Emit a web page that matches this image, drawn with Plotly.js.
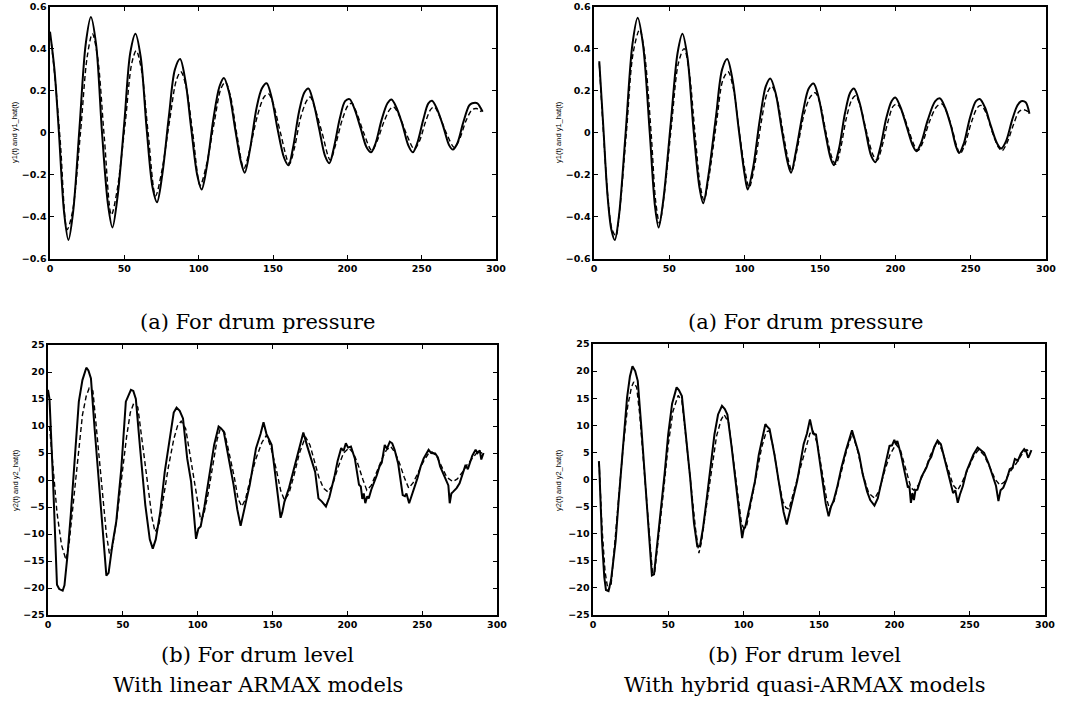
<!DOCTYPE html>
<html>
<head>
<meta charset="utf-8">
<script src="https://cdn.plot.ly/plotly-3.0.1.min.js"></script>
<style>html,body{margin:0;padding:0;background:#fff;}#chart{width:1075px;height:706px;}</style>
</head>
<body>
<div id="chart"></div>
<script>
// ---- data (x = sample index, y = value) ----
const tlSolid = [[0,0.48],[3,0.30],[6,0.0],[9.5,-0.38],[12.4,-0.51],[15.5,-0.38],[19.8,0.02],[24,0.42],[27.5,0.55],[31,0.42],[35,0.0],[39,-0.34],[42,-0.45],[45.5,-0.3],[50,0.05],[54,0.38],[57.5,0.47],[61,0.36],[65,0.02],[69,-0.26],[72,-0.33],[75.5,-0.2],[80,0.08],[84,0.30],[87.5,0.35],[91,0.25],[95,0.02],[99,-0.20],[102,-0.27],[105.5,-0.16],[110,0.07],[114,0.22],[117,0.26],[120.5,0.19],[124.5,0.02],[128.5,-0.14],[131,-0.19],[134.5,-0.08],[139,0.12],[142.5,0.21],[145.7,0.235],[149,0.17],[153,0.02],[157.5,-0.12],[160.4,-0.155],[163.5,-0.07],[167.5,0.10],[171,0.19],[173.8,0.21],[177,0.15],[181,0.02],[185,-0.11],[187.9,-0.145],[191,-0.07],[195,0.07],[198.5,0.15],[201.5,0.16],[205,0.11],[209,0.02],[213,-0.07],[216,-0.093],[219,-0.05],[223,0.06],[227,0.14],[229.7,0.158],[233,0.12],[237,0.04],[241,-0.06],[244,-0.093],[247,-0.05],[251,0.06],[254.5,0.14],[257,0.152],[260.5,0.11],[264.5,0.03],[268.5,-0.06],[271,-0.08],[274,-0.05],[278,0.05],[282,0.13],[284,0.14],[287.5,0.14],[289.5,0.12],[291,0.10]];
const tlDashed = [[1,0.42],[3.5,0.25],[7,-0.05],[11.5,-0.46],[15,-0.38],[20.5,0.0],[25,0.36],[28.5,0.47],[32,0.36],[36.5,-0.02],[41.3,-0.39],[45,-0.28],[50.5,0.04],[55,0.33],[58,0.39],[61.5,0.30],[66,0.0],[71,-0.30],[75,-0.19],[80.5,0.06],[85,0.25],[88,0.29],[91.5,0.22],[96,0.0],[101,-0.25],[105,-0.16],[110.5,0.05],[115,0.21],[118,0.24],[121.5,0.17],[125.5,0.0],[130.4,-0.17],[134,-0.09],[139.5,0.08],[144,0.17],[147,0.185],[150.5,0.13],[155,0.0],[161,-0.148],[164.5,-0.07],[168.5,0.07],[172.5,0.15],[175,0.17],[178.5,0.11],[183,0.0],[188.5,-0.13],[192,-0.06],[196.5,0.06],[200.5,0.13],[203,0.14],[206.5,0.09],[211,0.0],[216.5,-0.085],[220,-0.04],[224.5,0.05],[228.5,0.11],[231,0.123],[235,0.08],[240,-0.01],[245,-0.077],[248.5,-0.04],[252.5,0.05],[256,0.11],[258.5,0.123],[262,0.08],[266.5,0.0],[272,-0.07],[275.5,-0.03],[280,0.06],[284,0.11],[287,0.115],[290,0.10]];
const trSolid = [[3.5,0.34],[6,0.05],[9,-0.3],[11.5,-0.46],[13.8,-0.51],[16.5,-0.4],[21,0.0],[25.5,0.42],[29,0.546],[32.5,0.42],[37,0.0],[40.5,-0.35],[42.9,-0.45],[46,-0.32],[51,0.05],[55.5,0.38],[58.7,0.47],[62,0.36],[66,0.02],[70,-0.26],[72.5,-0.335],[76,-0.2],[81,0.08],[85,0.30],[88.4,0.35],[92,0.25],[96,0.02],[100,-0.2],[102,-0.27],[105.5,-0.17],[110,0.06],[114,0.22],[117,0.258],[120.5,0.19],[124.5,0.02],[128.5,-0.14],[130.8,-0.19],[134,-0.09],[139,0.11],[142.5,0.21],[145.7,0.234],[149,0.17],[153,0.02],[157,-0.12],[159.3,-0.154],[162.5,-0.08],[166.5,0.09],[170,0.19],[172.5,0.21],[176,0.15],[180,0.02],[184,-0.11],[186.8,-0.14],[190,-0.07],[194,0.07],[197.5,0.15],[200,0.168],[203.5,0.12],[207.5,0.03],[211.5,-0.06],[214,-0.088],[217,-0.05],[221.5,0.06],[226.5,0.15],[229.7,0.163],[233,0.12],[237,0.03],[240.5,-0.07],[242.4,-0.096],[245.5,-0.05],[249.5,0.07],[253.5,0.15],[256,0.16],[259.5,0.12],[263.5,0.03],[267.5,-0.05],[270.3,-0.075],[273.5,-0.04],[277.5,0.06],[281,0.13],[283.5,0.15],[286.5,0.145],[289,0.09]];
const trDashed = [[3.5,0.33],[6,0.03],[9.5,-0.33],[12,-0.46],[14.5,-0.49],[17,-0.37],[21.5,0.0],[26,0.38],[30.3,0.49],[33.5,0.38],[38,-0.01],[41,-0.33],[43.5,-0.43],[46.5,-0.3],[51.5,0.04],[56,0.33],[59.8,0.40],[63,0.30],[67,0.0],[70.5,-0.25],[73,-0.32],[76.5,-0.2],[81.5,0.06],[85.5,0.25],[89,0.29],[92.5,0.21],[96.5,0.0],[100.5,-0.19],[103,-0.26],[106.5,-0.16],[111,0.05],[115,0.19],[118,0.22],[121.5,0.16],[125.5,0.0],[129,-0.13],[131.3,-0.18],[134.5,-0.09],[139.5,0.09],[143.5,0.17],[146.8,0.19],[150,0.14],[154,0.0],[158,-0.12],[160.5,-0.15],[163.5,-0.08],[167.5,0.07],[171,0.155],[173.6,0.176],[177,0.12],[181,0.0],[185.5,-0.11],[188,-0.13],[191,-0.07],[195,0.05],[198.5,0.125],[201,0.137],[204.5,0.1],[208.5,0.02],[212.5,-0.06],[215,-0.085],[218,-0.05],[222.5,0.05],[227.5,0.125],[230.8,0.137],[234,0.1],[238,0.01],[241,-0.07],[243,-0.1],[246,-0.06],[250.5,0.05],[254.5,0.12],[257,0.13],[260.5,0.09],[264.5,0.0],[268.5,-0.07],[270.8,-0.086],[274,-0.05],[278.5,0.04],[282,0.1],[284.6,0.11],[287,0.105],[289.5,0.09]];
const blSolid = [[0,16.7],[1,15],[3.3,0.3],[6,-19.4],[7.5,-20.2],[9.8,-20.5],[11,-19.5],[13,-14],[15.2,-6.5],[18,4],[20.6,14.5],[23,18.5],[25.6,20.8],[27,20.3],[28.7,18.8],[31,10],[33.7,0.9],[36.5,-10],[39,-17.7],[40.5,-17.2],[43,-12],[45.6,-7.7],[49,2.2],[52,14.5],[55.4,16.7],[57,16.5],[58.7,15],[61.5,6],[65,-4.6],[68,-11],[70,-12.7],[72,-11],[75,-5.9],[78,1.5],[81.5,8.3],[84,12.5],[85.9,13.4],[88,12.8],[90.2,11.4],[93,4],[95.6,-0.3],[97.5,-7],[98.9,-10.9],[100.5,-9],[102,-8.6],[104.5,-5],[107.6,0.3],[111,6.5],[114,9.9],[115.5,9.6],[117.4,9],[120.5,4.5],[124,-0.9],[126.5,-5.5],[128.7,-8.5],[131.5,-5],[134.8,-0.9],[139,5.9],[142,8.5],[144,10.7],[146,8.5],[149.4,6.5],[152.6,-0.9],[155.4,-7],[156.5,-6],[158,-4],[161,-1.5],[164.5,2.2],[167.5,5.5],[170.6,8.8],[173.5,6],[176.4,3.4],[178.5,1.5],[180.7,-3.4],[183,-4],[185.7,-4.9],[188,-3.2],[191.6,0.9],[193.5,3.5],[195.9,5.9],[197.5,5.4],[199,6.8],[200.5,6],[202.4,6.2],[205,4],[207.8,-0.9],[209,-1.2],[210,-3.5],[211,-2.5],[212,-4.3],[213.3,-3],[214.3,-3.4],[216,-1.8],[219.7,0.9],[221.5,2.5],[223,3.2],[225,6.5],[226.5,5.8],[228.4,7.1],[230,6.8],[231.6,5.6],[234,3],[237,-2.8],[238.5,-3],[239.5,-2.5],[241.3,-4.3],[243,-3],[246.8,0.3],[249,2.5],[251,4],[254.3,5.6],[256,5],[258.7,4.9],[260.5,4.2],[262,2.5],[266,-0.3],[267.5,-1],[268.4,-4.3],[269.5,-2.5],[270.6,-2.2],[273,-1.5],[275,-0.6],[277,1],[279,2.8],[280.5,2.0],[282,3.5],[283.5,4.5],[285.7,5.6],[287,5.0],[288.5,5.5],[289.5,3.8],[291,5.0]];
const blDashed = [[1,10],[3,3],[6,-6],[9,-12],[12,-14.8],[14,-12],[17,-4],[20,5],[23,12],[25.5,15.5],[27.5,17],[30,16.5],[33,8],[36.5,-3],[39,-10],[41,-13.6],[43,-12.5],[46,-7],[49.5,1],[52.5,8],[55,12.5],[57,14],[60,13.5],[63,7],[66.5,-1],[69.5,-7],[71.5,-9.6],[74,-8.5],[77,-3.5],[80.5,2.5],[84,7.5],[86.5,10],[89,10.9],[92,9.5],[95,4.5],[98.5,-1.5],[102,-7.4],[104,-6.5],[107,-2.5],[110,2.5],[113,7.5],[115,9.4],[118,8.8],[121,5],[124.5,0.5],[127,-3.5],[129.5,-4.9],[132,-3.5],[135,0],[139,4],[143,7],[146,8.3],[149,6],[152.5,2],[155.5,-2],[158,-3.7],[161,-2.5],[164.5,1],[168,5],[172,8],[175,6.5],[178,3.5],[181,0.5],[184,-1.5],[187,-2.2],[190,-1],[194,2.5],[197.5,5],[201,5.9],[204,5],[207,3],[210.5,0],[213,-1.9],[216,-1],[219.5,1.5],[223,3.8],[226,5.5],[229,6.2],[232,5],[235,3],[238,0.5],[241,-1.5],[244,-0.5],[247.5,1.5],[251,3.5],[254,4.8],[256.5,5.2],[259.5,4.5],[263,2.5],[266.5,0.5],[270.5,-0.3],[273.5,0.2],[277,1.5],[280,2.8],[283.5,4],[287,5.2],[290,5]];
const brSolid = [[3.9,3.4],[4.2,2],[6,-11.4],[7.5,-18],[8.6,-20.4],[10.3,-20.6],[12,-18.5],[15,-11.4],[17,-4],[19.4,4.6],[22.6,15.1],[24.5,19],[26.2,20.9],[28,20],[29.7,18.2],[32,10],[34.4,0.9],[37,-10],[39.1,-17.7],[40.5,-17.5],[43,-11],[45.2,-5.9],[47.5,1],[49.9,8.3],[52.5,14],[55.5,17],[57,16.5],[59,15.4],[61.5,9],[64.5,0.3],[67,-8],[69.2,-12.3],[71,-12.3],[73,-9],[75.3,-4],[78,2.5],[80.6,8.3],[83,12],[85.6,13.6],[87.5,13],[89.2,12],[92,6],[94.6,0.3],[97,-6],[99,-10.8],[100,-9.2],[101,-8.8],[104,-5],[107.5,-0.3],[110,4.5],[112.5,7.5],[114.4,10.2],[115.5,9.8],[117.2,9.3],[120.5,4.5],[123.7,-1.5],[126.5,-6],[128.6,-8.3],[131,-5.5],[135.5,-0.3],[139.8,6.5],[142,8.5],[144,11.1],[146,8.5],[148,8.3],[152,0.3],[154.5,-4.5],[156.4,-6.8],[158,-5],[159.6,-4],[162,-1.5],[164.9,2.2],[168,5.5],[171.9,9.1],[174,7],[176.6,4.6],[179,1],[181.9,-2.2],[184,-3.8],[186.8,-4.8],[189,-3.5],[192.6,0.9],[194.5,3.5],[196.8,6.2],[198.5,6.3],[200,7.3],[201,6.5],[202,7.1],[204.5,4.5],[207.4,0.9],[209,-1.5],[210,-1.2],[211,-4.3],[212,-2.5],[213,-3.8],[214,-2.0],[215.3,-1.9],[218,0.5],[221.3,2.2],[223,3.5],[224.5,4.2],[226.5,6],[228.7,7.2],[230.9,6.5],[233.5,3.5],[237.2,-0.3],[239,-2.5],[240.5,-2],[242.1,-4.3],[243.5,-2.8],[245.5,-1.2],[247.9,1.5],[250,3],[252.5,4.6],[255.3,5.9],[257.5,5.3],[259.6,4.9],[262.5,3],[266,0.3],[267.5,-1.2],[269.1,-4],[270.5,-2],[272.3,-1.5],[274.5,0],[276.6,1.9],[278.5,2.2],[280,3.8],[282,3.5],[284,4.8],[286.2,5.6],[287.5,5.2],[288.8,4.0],[289.8,4.6],[291,5.4]];
const brDashed = [[4,3.3],[6,-9],[8,-17],[10,-20.5],[12,-19.5],[14,-13],[17,-3],[20,6],[23,13.5],[25.5,17],[27,18],[29,17],[31,12],[34,2],[37,-9],[39.5,-17.3],[41,-17],[43.5,-11],[46.5,-3],[50,6.5],[53,12.5],[56.5,15.5],[59,14.5],[62,7],[65,-1],[68,-9],[70.3,-13.6],[72,-11.5],[75.5,-4.5],[79,2.5],[82,8],[85,11],[87,12],[90,10.5],[93,4.5],[96,-2.5],[98.5,-8],[100,-9],[102,-8.5],[105,-4],[108.5,0.5],[112,6],[115,8.8],[117,9],[120,5.5],[123,0],[126,-4],[128,-5.2],[130,-5.5],[133,-2.5],[137,1.5],[141,6],[144,8.5],[146,9],[149,6.5],[152,1.5],[155,-3.5],[157,-5.5],[160,-4],[164,0.5],[168,5],[172,8.5],[175.5,5.5],[179,1],[183,-2.5],[187,-3.5],[190,-2],[193.5,1.5],[197,4.5],[201,6.5],[204,5.5],[207.5,2],[211,-1.5],[213,-2],[216,-1],[220,1.5],[224,4.5],[228.5,7],[231.5,5.5],[235,2.5],[239,-1],[242,-2],[245,-0.5],[249,2],[253,4.5],[256,5.5],[259.5,4.5],[263,2.5],[267,0],[270,-1],[273,-0.5],[277,1.5],[281,3],[285,4.8],[288,5.5],[290,5]];

const xTicks = [0, 50, 100, 150, 200, 250, 300];
const y1Ticks = [-0.6, -0.4, -0.2, 0, 0.2, 0.4, 0.6];
const y2Ticks = [-25, -20, -15, -10, -5, 0, 5, 10, 15, 20, 25];
const y1Title = 'y1(t) and y1_hat(t)';
const y2Title = 'y2(t) and y2_hat(t)';
const captionA = '(a) For drum pressure';
const captionB = '(b) For drum level';
const captionLeft = 'With linear ARMAX models';
const captionRight = 'With hybrid quasi-ARMAX models';

// ---- layout helpers (pixel geometry -> paper fractions) ----
const W = 1075, H = 706;
const px = v => v / W;
const py = v => 1 - v / H;

function trace(pairs, xa, ya, dashed, smooth) {
  return {
    x: pairs.map(p => p[0]), y: pairs.map(p => p[1]),
    xaxis: xa, yaxis: ya, mode: 'lines', hoverinfo: 'skip',
    line: {color: '#000', width: dashed ? 1.4 : 2.0, dash: dashed ? '5px,3px' : 'solid',
           shape: smooth ? 'spline' : 'linear', smoothing: 0.9}
  };
}

const data = [
  trace(tlDashed, 'x', 'y', true, true), trace(tlSolid, 'x', 'y', false, true),
  trace(trDashed, 'x2', 'y2', true, true), trace(trSolid, 'x2', 'y2', false, true),
  trace(blDashed, 'x3', 'y3', true, false), trace(blSolid, 'x3', 'y3', false, false),
  trace(brDashed, 'x4', 'y4', true, false), trace(brSolid, 'x4', 'y4', false, false)
];

const tickFont = {family: 'DejaVu Sans, sans-serif', size: 9.5, color: '#000', weight: 'bold'};
function xAx(l, r, anchor) {
  return {domain: [px(l), px(r)], range: [0, 300], tickvals: xTicks, anchor: anchor,
    ticks: 'inside', ticklen: 4, tickwidth: 1, tickcolor: '#000', mirror: 'ticks',
    showline: true, linecolor: '#000', linewidth: 1.6, showgrid: false, zeroline: false,
    tickfont: tickFont, fixedrange: true};
}
function yAx(t, b, rng, ticks, anchor) {
  return {domain: [py(b), py(t)], range: rng, tickvals: ticks, anchor: anchor,
    ticks: 'inside', ticklen: 4, tickwidth: 1, tickcolor: '#000', mirror: 'ticks',
    showline: true, linecolor: '#000', linewidth: 1.6, showgrid: false, zeroline: false,
    tickfont: tickFont, fixedrange: true};
}

const yTitleFont = {family: 'Liberation Sans, Arial, sans-serif', size: 7.5, color: '#000'};
const capFont = {family: 'DejaVu Serif, serif', size: 21, color: '#000'};
function ann(text, x, y, font, angle) {
  return {text: text, xref: 'paper', yref: 'paper', x: px(x), y: py(y), xanchor: 'center', yanchor: 'middle',
    showarrow: false, font: font, textangle: angle || 0};
}

const layout = {
  width: W, height: H, margin: {l: 0, r: 0, t: 0, b: 0},
  paper_bgcolor: '#fff', plot_bgcolor: '#fff', showlegend: false,
  xaxis: xAx(50, 496, 'y'), yaxis: yAx(6.5, 259, [-0.6, 0.6], y1Ticks, 'x'),
  xaxis2: xAx(594, 1046, 'y2'), yaxis2: yAx(6.5, 259, [-0.6, 0.6], y1Ticks, 'x2'),
  xaxis3: xAx(48, 497, 'y3'), yaxis3: yAx(345, 615, [-25, 25], y2Ticks, 'x3'),
  xaxis4: xAx(593, 1045, 'y4'), yaxis4: yAx(344, 615, [-25, 25], y2Ticks, 'x4'),
  annotations: [
    ann(y1Title, 15, 132, yTitleFont, -90), ann(y1Title, 559, 132, yTitleFont, -90),
    ann(y2Title, 15, 480, yTitleFont, -90), ann(y2Title, 558, 480, yTitleFont, -90),
    ann(captionA, 257, 322, capFont), ann(captionA, 805, 322, capFont),
    ann(captionB, 257, 655, capFont), ann(captionB, 804, 655, capFont),
    ann(captionLeft, 258, 685, capFont), ann(captionRight, 805, 685, capFont)
  ]
};

Plotly.newPlot('chart', data, layout, {staticPlot: true, displayModeBar: false});
</script>
</body>
</html>
